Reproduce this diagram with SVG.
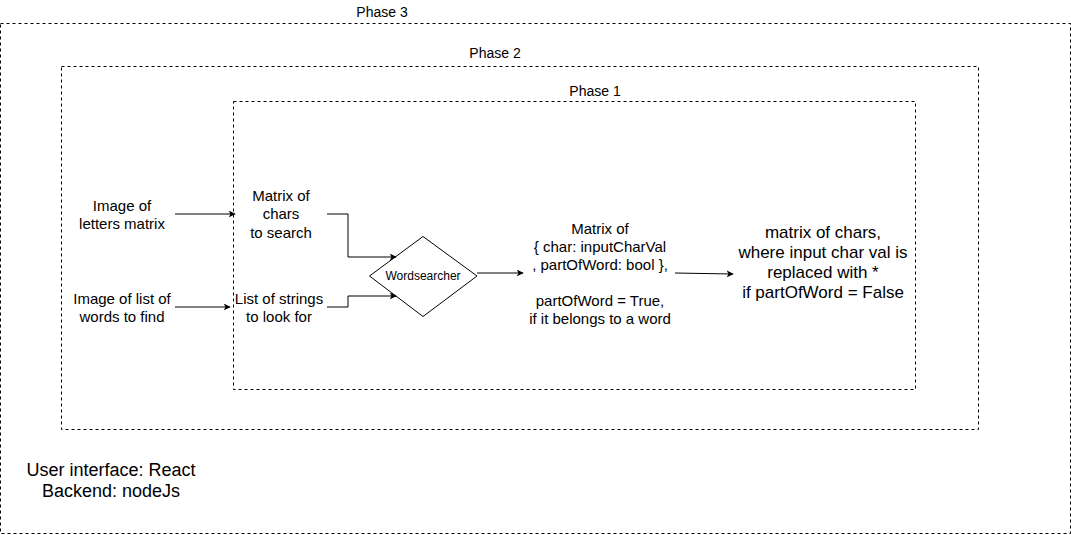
<svg xmlns="http://www.w3.org/2000/svg" width="1071" height="535" viewBox="0 0 1071 535">
<style>
.frame{fill:none;stroke:#000;stroke-width:1;stroke-dasharray:3 3}
.t{font-family:"Liberation Sans",Arial,sans-serif;fill:#000;text-anchor:middle}
.c{fill:none;stroke:#000;stroke-width:1}
</style>
<defs>
<marker id="ah" viewBox="0 0 10 10" refX="9" refY="5" markerWidth="7" markerHeight="7" markerUnits="userSpaceOnUse" orient="auto">
<path d="M0,0 L10,5 L0,10 L2.5,5 Z" fill="#000"/>
</marker>
</defs>
<rect width="1071" height="535" fill="#fff"/>
<g id="phase3">
<rect class="frame" x="0.5" y="23.5" width="1070" height="510"/>
<text class="t" x="382" y="17" font-size="14">Phase 3</text>
</g>
<g id="phase2">
<rect class="frame" x="61.5" y="66.5" width="917" height="363"/>
<text class="t" x="495" y="58" font-size="14">Phase 2</text>
</g>
<g id="phase1">
<rect class="frame" x="233.5" y="101.5" width="682" height="288"/>
<text class="t" x="595" y="96" font-size="14">Phase 1</text>
</g>
<g id="img-letters">
<text class="t" font-size="15"><tspan x="122" y="211">Image of</tspan><tspan x="122" y="229">letters matrix</tspan></text>
</g>
<g id="img-words">
<text class="t" font-size="15"><tspan x="122" y="304">Image of list of</tspan><tspan x="122" y="322">words to find</tspan></text>
</g>
<g id="matrix-chars">
<text class="t" font-size="15"><tspan x="281" y="201">Matrix of</tspan><tspan x="281" y="219">chars</tspan><tspan x="281" y="238">to search</tspan></text>
</g>
<g id="list-strings">
<text class="t" font-size="15"><tspan x="279" y="304">List of strings</tspan><tspan x="279" y="322">to look for</tspan></text>
</g>
<g id="wordsearcher">
<path d="M423,236.5 L477,276 L423,316.5 L369.5,276 Z" fill="#fff" stroke="#000" stroke-width="1"/>
<text class="t" x="423" y="280" font-size="12">Wordsearcher</text>
</g>
<g id="matrix-of">
<text class="t" font-size="15"><tspan x="600" y="234">Matrix of</tspan><tspan x="600" y="252">{ char: inputCharVal</tspan><tspan x="600" y="270">, partOfWord: bool },</tspan><tspan x="600" y="306">partOfWord = True,</tspan><tspan x="600" y="324">if it belongs to a word</tspan></text>
</g>
<g id="result">
<text class="t" font-size="17"><tspan x="823" y="238">matrix of chars,</tspan><tspan x="823" y="258">where input char val is</tspan><tspan x="823" y="278">replaced with *</tspan><tspan x="823" y="298">if partOfWord = False</tspan></text>
</g>
<g id="tech">
<text class="t" font-size="18"><tspan x="111" y="476">User interface: React</tspan><tspan x="111" y="497">Backend: nodeJs</tspan></text>
</g>
<g id="connectors">
<path class="c" d="M175,214 H235" marker-end="url(#ah)"/>
<path class="c" d="M175,307 H230" marker-end="url(#ah)"/>
<path class="c" d="M327,214 H348 V257 H396" marker-end="url(#ah)"/>
<path class="c" d="M327,307 H348 V296 H396" marker-end="url(#ah)"/>
<path class="c" d="M477,273 H523" marker-end="url(#ah)"/>
<path class="c" d="M675,273 L733,274" marker-end="url(#ah)"/>
</g>
</svg>
